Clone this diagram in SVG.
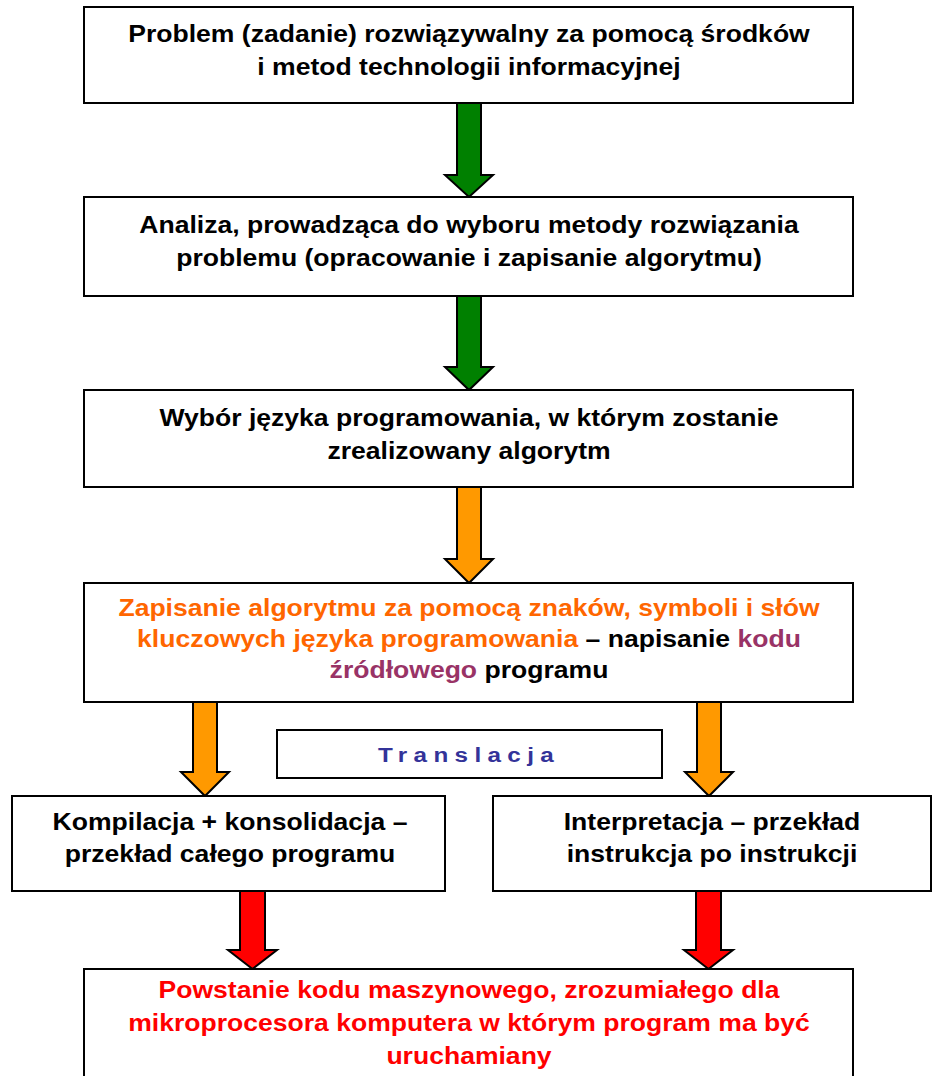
<svg xmlns="http://www.w3.org/2000/svg" width="936" height="1076" viewBox="0 0 936 1076">
<style>
.box{fill:#fff;stroke:#000;stroke-width:2}
.t{font-family:"Liberation Sans",Arial,sans-serif;font-weight:bold;font-size:23px;text-anchor:middle;fill:#000}
.arr{stroke:#000;stroke-width:2;stroke-linejoin:miter}
.g{fill:#008000}.o{fill:#FF9900}.r{fill:#FF0000}
.or{fill:#FF6600}.pu{fill:#993366}.bk{fill:#000}.rd{fill:#FF0000}
.tr{font-family:"Liberation Sans",Arial,sans-serif;font-weight:bold;font-size:21px;letter-spacing:5.5px;fill:#333399;text-anchor:middle}
</style>
<rect width="936" height="1076" fill="#fff"/>
<g id="connectors">
<path class="arr g" d="M457,103 H481 V175 H493 L469,197 L445,175 H457 Z"/>
<path class="arr g" d="M457,296 H481 V367 H493 L469,390 L445,367 H457 Z"/>
<path class="arr o" d="M457,487 H481 V559 H493 L469,583 L445,559 H457 Z"/>
<path class="arr o" d="M193,702 H217 V772 H229 L205,796 L181,772 H193 Z"/>
<path class="arr o" d="M697,702 H721 V772 H733 L709,796 L685,772 H697 Z"/>
<path class="arr r" d="M240,891 H265 V950 H277 L252.5,969 L228,950 H240 Z"/>
<path class="arr r" d="M696,891 H721 V950 H733 L708.5,969 L684,950 H696 Z"/>
</g>
<g id="n1">
<rect class="box" x="84" y="7" width="769" height="96"/>
<g transform="translate(469,0) scale(1.155,1)">
<text class="t" x="0" y="42">Problem (zadanie) rozwiązywalny za pomocą środków</text>
<text class="t" x="0" y="75">i metod technologii informacyjnej</text>
</g>
</g>
<g id="n2">
<rect class="box" x="84" y="197" width="769" height="99"/>
<g transform="translate(469,0) scale(1.155,1)">
<text class="t" x="0" y="233">Analiza, prowadząca do wyboru metody rozwiązania</text>
<text class="t" x="0" y="266">problemu (opracowanie i zapisanie algorytmu)</text>
</g>
</g>
<g id="n3">
<rect class="box" x="84" y="390" width="769" height="97"/>
<g transform="translate(469,0) scale(1.155,1)">
<text class="t" x="0" y="426">Wybór języka programowania, w którym zostanie</text>
<text class="t" x="0" y="459">zrealizowany algorytm</text>
</g>
</g>
<g id="n4">
<rect class="box" x="84" y="583" width="769" height="119"/>
<g transform="translate(469,0) scale(1.155,1)">
<text class="t" x="0" y="616"><tspan class="or">Zapisanie algorytmu za pomocą znaków, symboli i słów</tspan></text>
<text class="t" x="0" y="647"><tspan class="or">kluczowych języka programowania</tspan><tspan class="bk"> – napisanie </tspan><tspan class="pu">kodu</tspan></text>
<text class="t" x="0" y="678"><tspan class="pu">źródłowego</tspan><tspan class="bk"> programu</tspan></text>
</g>
</g>
<g id="translacja">
<rect class="box" x="277" y="730" width="385" height="48"/>
<g transform="translate(469,0) scale(1.155,1)">
<text class="tr" x="0" y="762">Translacja</text>
</g>
</g>
<g id="n5">
<rect class="box" x="12" y="796" width="433" height="95"/>
<g transform="translate(230,0) scale(1.155,1)">
<text class="t" x="0" y="830">Kompilacja + konsolidacja –</text>
<text class="t" x="0" y="862">przekład całego programu</text>
</g>
</g>
<g id="n6">
<rect class="box" x="493" y="796" width="438" height="95"/>
<g transform="translate(712,0) scale(1.155,1)">
<text class="t" x="0" y="830">Interpretacja – przekład</text>
<text class="t" x="0" y="862">instrukcja po instrukcji</text>
</g>
</g>
<g id="n7">
<rect class="box" x="84" y="969" width="769" height="130"/>
<g transform="translate(469,0) scale(1.155,1)">
<text class="t rd" x="0" y="998">Powstanie kodu maszynowego, zrozumiałego dla</text>
<text class="t rd" x="0" y="1031">mikroprocesora komputera w którym program ma być</text>
<text class="t rd" x="0" y="1064">uruchamiany</text>
</g>
</g>
</svg>
